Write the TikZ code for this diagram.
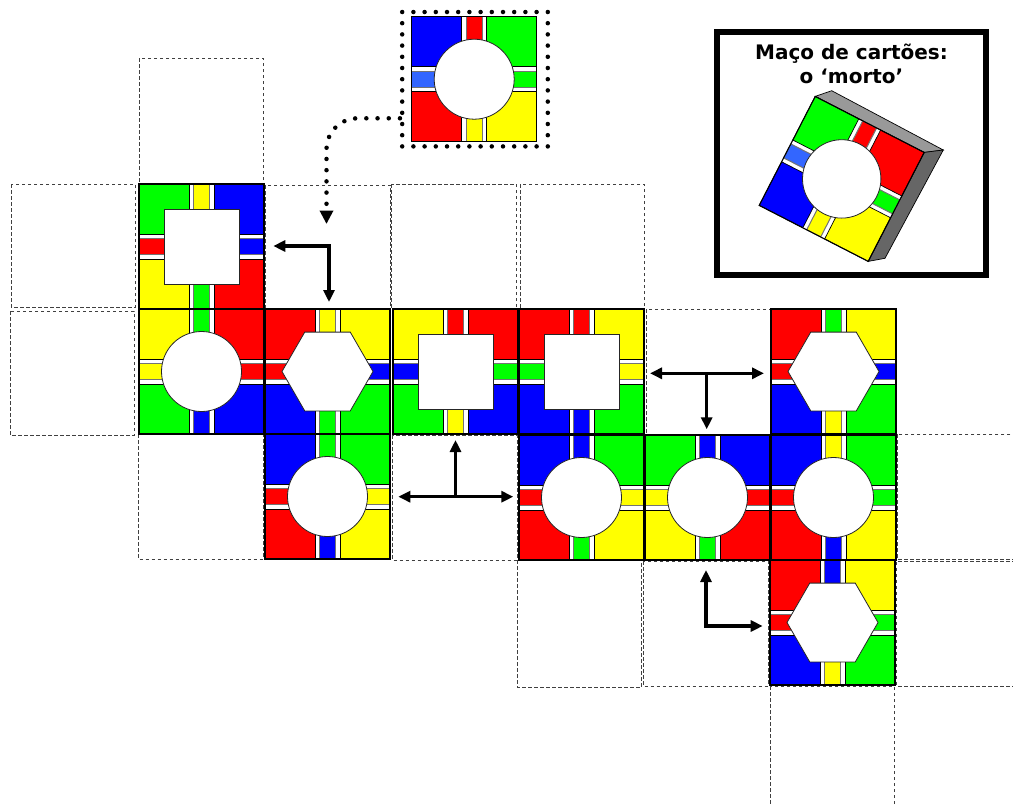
\documentclass[tikz,border=0pt]{standalone}
\usepackage{fontspec}
\newfontfamily\titlefont{DejaVu Sans}
\usetikzlibrary{arrows.meta,shapes.geometric}

\definecolor{pred}{HTML}{FF0000}
\definecolor{pgreen}{HTML}{00FF00}
\definecolor{pblue}{HTML}{0000FF}
\definecolor{pyellow}{HTML}{FFFF00}
\definecolor{psky}{HTML}{3366FF}
\definecolor{topside}{HTML}{999999}
\definecolor{rightside}{HTML}{666666}

\tikzset{
  cell/.style={draw=black!75, line width=0.8pt, dash pattern=on 3.5pt off 2.5pt},
  quad/.style={draw=black, line width=0.7pt},
  lane/.style={draw=black!55, line width=1pt},
  rim/.style={draw=black, line width=1.1pt},
  hole/.style={draw=black!85, fill=white, line width=0.8pt, inner sep=0pt, outer sep=0pt},
  sqhole/.style={hole, rectangle, minimum size=75pt},
  rdhole/.style={hole, circle, minimum size=80pt},
  hxhole/.style={hole, regular polygon, regular polygon sides=6, minimum size=91pt},
  move/.style={line width=3.4pt, line join=miter,
    {Triangle[length=12pt,width=11pt]}-{Triangle[length=12pt,width=11pt]}},
  moveone/.style={line width=3.4pt, -{Triangle[length=12pt,width=11pt]}},
  dots/.style={line width=4.5pt, line cap=round, dash pattern=on 0pt off 11.2pt},
}

% one card: four corner squares, four lanes and a black rim;
% #1 top-left corner, then colours TL, T, TR, L, R, BL, B, BR
\newcommand{\cardtile}[9]{%
  \begin{scope}[shift={(#1)}]
    \filldraw[quad, fill=#2] (0,0) rectangle (50,50);
    \filldraw[quad, fill=#4] (75,0) rectangle (125,50);
    \filldraw[quad, fill=#7] (0,75) rectangle (50,125);
    \filldraw[quad, fill=#9] (75,75) rectangle (125,125);
    \filldraw[lane, fill=#3] (54.5,0) rectangle (70.5,62.5);
    \filldraw[lane, fill=#8] (54.5,62.5) rectangle (70.5,125);
    \filldraw[lane, fill=#5] (0,54.5) rectangle (62.5,70.5);
    \filldraw[lane, fill=#6] (62.5,54.5) rectangle (125,70.5);
    \draw[rim] (0,0) rectangle (125,125);
  \end{scope}}

\begin{document}
\begin{tikzpicture}[x=1pt, y=-1pt]
\useasboundingbox (0,0) rectangle (1013,804);

% empty board places
\draw[cell] (139,58) rectangle (263,183);
\draw[cell] (11,184) rectangle (135,307);
\draw[cell] (10,311) rectangle (134,435);
\draw[cell] (265,185) rectangle (390.5,308.5);
\draw[cell] (391.7,184) rectangle (516.7,309);
\draw[cell] (520,184) rectangle (644,309);
\draw[cell] (138.5,434) rectangle (263,559);
\draw[cell] (392.7,435) rectangle (517.3,560);
\draw[cell] (646,309.3) rectangle (770,434.3);
\draw[cell] (897,434.3) rectangle (1030,559);
\draw[cell] (517,560) rectangle (641.5,687);
\draw[cell] (643.5,561) rectangle (768.3,686);
\draw[cell] (896.7,561.7) rectangle (1030,686);
\draw[cell] (770,686) rectangle (894,830);

% cards laid on the board
\cardtile{139,184}{pgreen}{pyellow}{pblue}{pred}{pblue}{pyellow}{pgreen}{pred}
\node[sqhole] (hA) at (201.5,246.5) {};
\cardtile{139,309}{pyellow}{pgreen}{pred}{pyellow}{pred}{pgreen}{pblue}{pblue}
\node[rdhole] (hB) at (201.5,371.5) {};
\cardtile{265,309}{pred}{pyellow}{pyellow}{pred}{pblue}{pblue}{pgreen}{pgreen}
\node[hxhole] (hC) at (327.5,371.5) {};
\cardtile{393,309}{pyellow}{pred}{pred}{pblue}{pgreen}{pgreen}{pyellow}{pblue}
\node[sqhole] (hD) at (455.5,371.5) {};
\cardtile{519,309}{pred}{pred}{pyellow}{pgreen}{pyellow}{pblue}{pblue}{pgreen}
\node[sqhole] (hE) at (581.5,371.5) {};
\cardtile{771,309}{pred}{pgreen}{pyellow}{pred}{pblue}{pblue}{pyellow}{pgreen}
\node[hxhole] (hF) at (833.5,371.5) {};
\cardtile{265,434}{pblue}{pgreen}{pgreen}{pred}{pyellow}{pred}{pblue}{pyellow}
\node[rdhole] (hG) at (327.5,496.5) {};
\cardtile{519,435}{pblue}{pblue}{pgreen}{pred}{pyellow}{pred}{pgreen}{pyellow}
\node[rdhole] (hH) at (581.5,497.5) {};
\cardtile{645,435}{pgreen}{pblue}{pblue}{pyellow}{pred}{pyellow}{pgreen}{pred}
\node[rdhole] (hI) at (707.5,497.5) {};
\cardtile{771,435}{pblue}{pyellow}{pgreen}{pred}{pgreen}{pred}{pblue}{pyellow}
\node[rdhole] (hJ) at (833.5,497.5) {};
\cardtile{770,560}{pred}{pblue}{pyellow}{pred}{pgreen}{pblue}{pyellow}{pgreen}
\node[hxhole] (hK) at (832.5,622.5) {};

% the card waiting to be placed
\node[draw, dots, minimum width=145.6pt, minimum height=134.4pt, inner sep=0pt] (mframe) at (475,79.2) {};
\cardtile{411.7,16.7}{pblue}{pred}{pgreen}{psky}{pgreen}{pred}{pyellow}{pyellow}
\node[rdhole] (hM) at (474.2,79.2) {};

% movement arrows
\coordinate (exit) at (mframe.west |- 0,118.3);
\coordinate (drop) at (326.5,224);
\draw[dots, rounded corners=31pt, -{Triangle[length=13.5pt,width=13pt]}] (exit) -- (326.5,118.3) -- (drop);

\coordinate (a1c) at (329,246);
\coordinate (a1l) at (273.3,246);
\coordinate (a1d) at (329,302);
\draw[move] (a1l) -- (a1c) -- (a1d);

\coordinate (a2l) at (650,373.3);
\coordinate (a2r) at (764,373.3);
\coordinate (a2c) at (706.7,373.3);
\coordinate (a2d) at (706.7,429.3);
\draw[move] (a2l) -- (a2r);
\draw[moveone] (a2c) -- (a2d);

\coordinate (a3l) at (398.3,496.7);
\coordinate (a3r) at (513.3,496.7);
\coordinate (a3c) at (455.5,496.7);
\coordinate (a3u) at (455.5,440);
\draw[move] (a3l) -- (a3r);
\draw[moveone] (a3c) -- (a3u);

\coordinate (a4u) at (706,570);
\coordinate (a4c) at (706,626);
\coordinate (a4r) at (762.7,626);
\draw[move] (a4u) -- (a4c) -- (a4r);

% the deck panel
\node[draw, line width=5.5pt, minimum width=269pt, minimum height=243pt, inner sep=0pt] (deck) at (851.5,153.5) {};
\node[anchor=base, font=\titlefont\bfseries\fontsize{20}{24}\selectfont] (title1) at (851.5,59.3) {Maço de cartões:};
\node[anchor=base, font=\titlefont\bfseries\fontsize{20}{24}\selectfont] (title2) at (851.5,83.3) {o ‘morto’};

% thickness of the deck
\filldraw[fill=topside, draw=black, line width=0.7pt] (815.2,96.4) -- (831.7,90.7) -- (943.3,150) -- (924.2,152.4) -- cycle;
\filldraw[fill=rightside, draw=black, line width=0.7pt] (924.2,152.4) -- (943.3,150) -- (885,258.3) -- (868.2,261.4) -- cycle;
\begin{scope}[shift={(841.7,178.9)}, rotate=-27.2, scale=0.98]
  \cardtile{-62.5,-62.5}{pgreen}{pred}{pred}{psky}{pgreen}{pblue}{pyellow}{pyellow}
\end{scope}
\node[rdhole, minimum size=78.4pt] (hdeck) at (841.7,178.9) {};
\end{tikzpicture}
\end{document}
